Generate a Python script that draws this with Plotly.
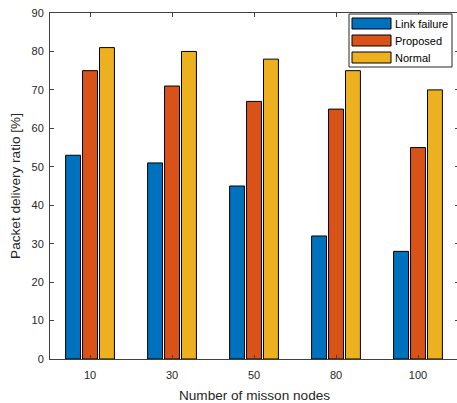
import plotly.graph_objects as go

categories = ["10", "30", "50", "80", "100"]
link_failure = [53, 51, 45, 32, 28]
proposed = [75, 71, 67, 65, 55]
normal = [81, 80, 78, 75, 70]
series_names = ["Link failure", "Proposed", "Normal"]
colors = ["#0072BD", "#D95319", "#EDB120"]

W, H = 459, 403
L, T, B = 50, 13, 359
R = 459
FONT = "Liberation Sans, Arial, sans-serif"
TXT = "#262626"

fig = go.Figure()
for name, vals, col in zip(series_names, [link_failure, proposed, normal], colors):
    fig.add_trace(go.Bar(x=categories, y=vals, name=name, marker=dict(color=col, line=dict(color="black", width=1)),
                         showlegend=False))

def px2paper(x, y):
    return (x - L) / (R - L), (B - y) / (B - T)

shapes = []
annotations = []
# legend box
x0, y0 = px2paper(349, 14)
x1, y1 = px2paper(452, 67)
shapes.append(dict(type="rect", xref="paper", yref="paper", x0=x0, y0=y1, x1=x1, y1=y0,
                   fillcolor="white", line=dict(color="#262626", width=1), layer="above"))
for i, (name, col) in enumerate(zip(series_names, colors)):
    top = 18 + 17 * i
    sx0, sy0 = px2paper(352, top)
    sx1, sy1 = px2paper(391, top + 11)
    shapes.append(dict(type="rect", xref="paper", yref="paper", x0=sx0, y0=sy1, x1=sx1, y1=sy0,
                       fillcolor=col, line=dict(color="black", width=1), layer="above"))
    tx, ty = px2paper(393, top + 5.5)
    annotations.append(dict(xref="paper", yref="paper", x=tx, y=ty, text=name, showarrow=False,
                            xanchor="left", yanchor="middle", font=dict(family=FONT, size=11, color="black")))

fig.update_layout(
    width=W, height=H,
    margin=dict(l=L, r=W - R, t=T, b=H - B, pad=0),
    paper_bgcolor="white", plot_bgcolor="white",
    barmode="group", bargap=0.38, bargroupgap=0.12,
    font=dict(family=FONT, size=11, color=TXT),
    shapes=shapes, annotations=annotations,
    xaxis=dict(type="category", range=[-0.488, 4.5], showline=True, linecolor="#404040", linewidth=1,
               mirror="ticks", ticks="inside", ticklen=4, tickcolor="#404040", showgrid=False,
               zeroline=False, automargin=False, tickfont=dict(size=11, color=TXT), ticklabelstandoff=6,
               title=dict(text="Number of misson nodes", font=dict(size=13.6, color=TXT), standoff=10)),
    yaxis=dict(range=[0, 90], dtick=10, showline=True, linecolor="#404040", linewidth=1,
               mirror="ticks", ticks="inside", ticklen=4, tickcolor="#404040", showgrid=False,
               zeroline=False, automargin=False, tickfont=dict(size=11, color=TXT), ticklabelstandoff=3,
               title=dict(text="Packet delivery ratio [%]", font=dict(size=13.6, color=TXT), standoff=7)),
)

fig.write_html("out.html", config={"displayModeBar": False},
               post_script="document.body.style.margin='0';document.body.style.overflow='hidden';")
